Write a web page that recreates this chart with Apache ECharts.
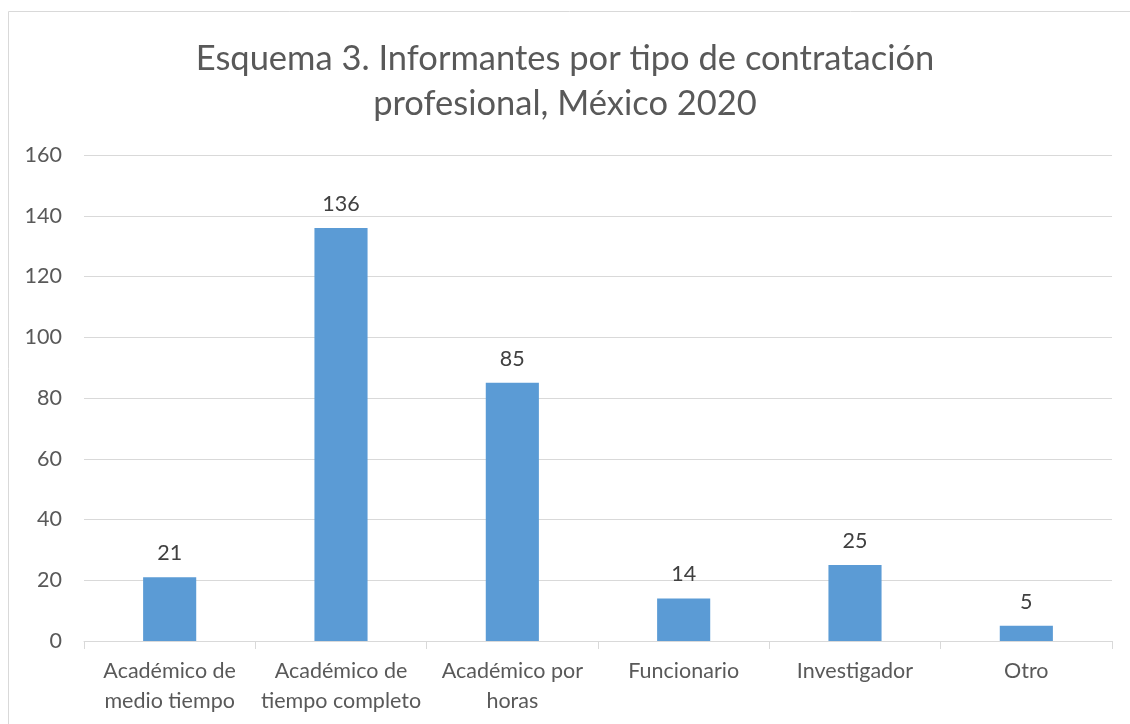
<!DOCTYPE html>
<html>
<head>
<meta charset="utf-8">
<script src="https://cdn.jsdelivr.net/npm/echarts@6/dist/echarts.min.js"></script>
<style>
  html, body { margin: 0; padding: 0; background: #fff; }
  #chart { width: 1130px; height: 724px; }
</style>
</head>
<body>
<div id="chart"></div>
<script>
// categorias y valores
var categories = [
    'Académico de\nmedio tiempo',
    'Académico de\ntiempo completo',
    'Académico por\nhoras',
    'Funcionario',
    'Investigador',
    'Otro'
];
var values = [21, 136, 85, 14, 25, 5];
var titleText = 'Esquema 3. Informantes por tipo de contratación\nprofesional, México 2020';

var font = 'Lato, "Open Sans", sans-serif';
var myChart = echarts.init(document.getElementById('chart'));

var option = {
    animation: false,
    title: {
        text: titleText,
        left: 'center',
        top: 31,
        textStyle: {
            color: '#595959',
            fontFamily: font,
            fontWeight: 'normal',
            fontSize: 34.5,
            lineHeight: 45
        }
    },
    graphic: [{ //borde del area del grafico
        type: 'rect',
        shape: { x: 8.5, y: 11.5, width: 1140, height: 740 },
        style: { fill: 'none', stroke: '#d9d9d9', lineWidth: 1 },
        silent: true
    }],
    grid: {
        left: 84,
        right: 18,
        top: 155,
        bottom: 83
    },
    xAxis: {
        type: 'category',
        data: categories,
        axisLine: { lineStyle: { color: '#d9d9d9', width: 1 } },
        axisTick: { show: true, length: 8, lineStyle: { color: '#d9d9d9' } },
        axisLabel: {
            color: '#595959',
            fontFamily: font,
            fontSize: 21.5,
            lineHeight: 30,
            margin: 15,
            interval: 0
        }
    },
    yAxis: {
        type: 'value',
        min: 0,
        max: 160,
        interval: 20,
        axisLine: { show: false },
        axisTick: { show: false },
        splitLine: { lineStyle: { color: '#d9d9d9', width: 1 } },
        axisLabel: {
            color: '#595959',
            fontFamily: font,
            fontSize: 21.5,
            margin: 22
        }
    },
    series: [{
        type: 'bar',
        data: values,
        barCategoryGap: '69%',
        itemStyle: { color: '#5b9bd5' },
        label: {
            show: true,
            position: 'top',
            distance: 13,
            color: '#404040',
            fontFamily: font,
            fontSize: 21.5
        }
    }]
};
myChart.setOption(option);
</script>
</body>
</html>
